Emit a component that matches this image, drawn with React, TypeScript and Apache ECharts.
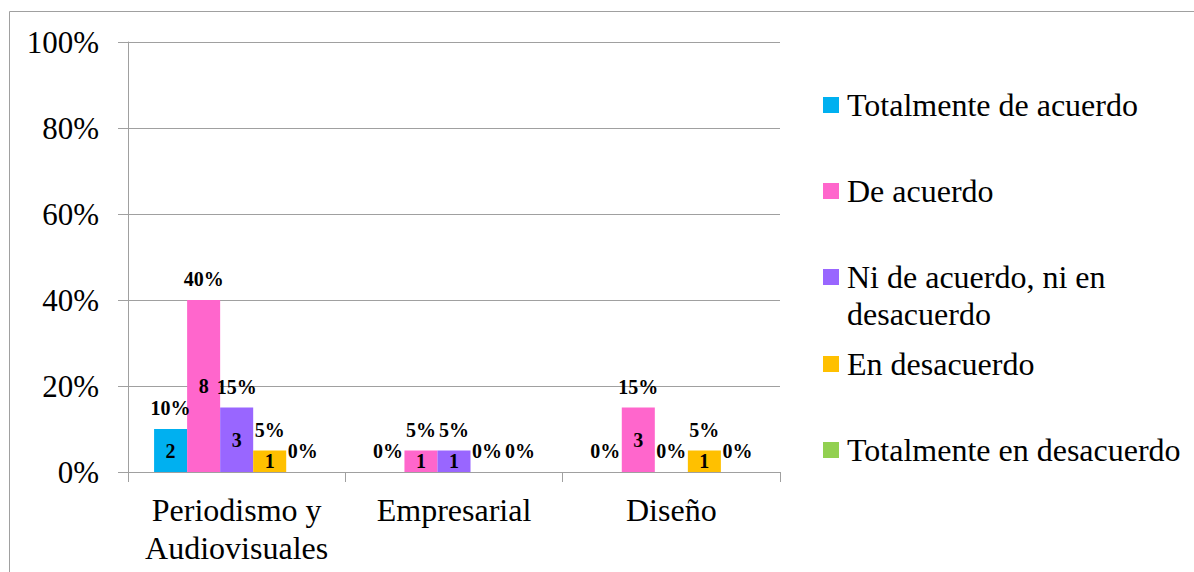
import React, { useEffect, useRef } from "react";
import * as echarts from "echarts";

const categories = ["Periodismo y\nAudiovisuales", "Empresarial", "Diseño"];
const seriesNames = [
  "Totalmente de acuerdo",
  "De acuerdo",
  "Ni de acuerdo, ni en desacuerdo",
  "En desacuerdo",
  "Totalmente en desacuerdo",
];
const legendLabels = [
  "Totalmente de acuerdo",
  "De acuerdo",
  "\nNi de acuerdo, ni en\ndesacuerdo",
  "En desacuerdo",
  "Totalmente en desacuerdo",
];
const colors = ["#00B0F0", "#FF66CC", "#9966FF", "#FFC000", "#92D050"];
// percentages per series, per category
const percentValues = [
  [10, 0, 0],
  [40, 5, 15],
  [15, 5, 0],
  [5, 0, 5],
  [0, 0, 0],
];
// counts per series, per category
const countValues = [
  [2, 0, 0],
  [8, 1, 3],
  [3, 1, 0],
  [1, 0, 1],
  [0, 0, 0],
];
const yTicks = [0, 20, 40, 60, 80, 100];

const FONT = "Liberation Serif";
const GRAY = "#a0a0a0";

export default function App() {
  const ref = useRef<HTMLDivElement>(null);
  useEffect(() => {
    const chart = echarts.init(ref.current!, undefined, { renderer: "svg" });
    const legendCenters = [105, 191, 277, 364, 450];
    const legends = seriesNames.map((name, i) => {
      const multi = legendLabels[i].includes("\n");
      return {
        data: [name],
        orient: "vertical",
        left: 823,
        top: multi ? legendCenters[i] - 55.5 : legendCenters[i] - 18.5,
        padding: 0,
        itemWidth: 16,
        itemHeight: 16,
        icon: "rect",
        selectedMode: false,
        formatter: () => legendLabels[i],
        textStyle: {
          fontFamily: FONT,
          fontSize: 32,
          color: "#000",
          lineHeight: 37,
          padding: [0, 0, 0, 3],
        },
      };
    });
    const barCommon = {
      barGap: "0%",
      barCategoryGap: "24%",
    };
    const pctSeries = seriesNames.map((name, i) => ({
      name,
      type: "bar",
      xAxisIndex: 0,
      ...barCommon,
      data: percentValues[i],
      itemStyle: { color: colors[i] },
      label: {
        show: true,
        position: "top",
        distance: 11,
        formatter: "{c}%",
        fontFamily: FONT,
        fontWeight: "bold",
        fontSize: 20,
        color: "#000",
      },
    }));
    const countSeries = seriesNames.map((name, i) => ({
      name: name + " (n)",
      type: "bar",
      xAxisIndex: 1,
      ...barCommon,
      silent: true,
      data: percentValues[i].map((v, j) => ({ value: v, count: countValues[i][j] })),
      itemStyle: { color: "rgba(0,0,0,0)" },
      label: {
        show: true,
        position: "inside",
        formatter: (p: any) => (p.data.count ? String(p.data.count) : ""),
        fontFamily: FONT,
        fontWeight: "bold",
        fontSize: 20,
        color: "#000",
      },
    }));
    chart.setOption({
      animation: false,
      grid: { left: 128, top: 42, width: 652, height: 430, containLabel: false },
      legend: legends,
      graphic: [
        {
          type: "rect",
          shape: { x: 9.5, y: 11.5, width: 1400, height: 800 },
          style: { fill: "none", stroke: GRAY, lineWidth: 1 },
          silent: true,
        },
      ],
      xAxis: [
        {
          type: "category",
          data: categories,
          axisLine: { lineStyle: { color: GRAY } },
          axisTick: { show: true, length: 10, lineStyle: { color: GRAY } },
          axisLabel: {
            fontFamily: FONT,
            fontSize: 32,
            color: "#000",
            lineHeight: 38,
            margin: 19,
            interval: 0,
          },
        },
        {
          type: "category",
          data: categories,
          show: false,
          position: "bottom",
        },
      ],
      yAxis: {
        type: "value",
        min: 0,
        max: 100,
        interval: 20,
        axisLine: { show: true, lineStyle: { color: GRAY } },
        axisTick: { show: true, length: 10, lineStyle: { color: GRAY } },
        splitLine: { show: true, lineStyle: { color: GRAY, width: 1 } },
        axisLabel: {
          formatter: (v: number) => (yTicks.includes(v) ? v + "%" : ""),
          fontFamily: FONT,
          fontSize: 31,
          color: "#000",
          margin: 29,
        },
      },
      series: [...pctSeries, ...countSeries],
    });
    return () => chart.dispose();
  }, []);
  return (
    <div
      ref={ref}
      style={{ position: "absolute", left: 0, top: 0, width: 1194, height: 572, background: "#fff" }}
    />
  );
}
